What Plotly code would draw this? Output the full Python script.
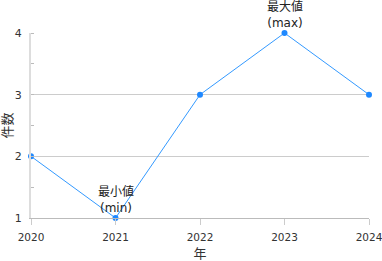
import plotly.graph_objects as go

years = [2020, 2021, 2022, 2023, 2024]
counts = [2, 1, 3, 4, 3]
max_label = "最大値<br>(max)"
min_label = "最小値<br>(min)"

imax = counts.index(max(counts))
imin = counts.index(min(counts))

fig = go.Figure()
fig.add_trace(go.Scatter(
    x=years, y=counts, mode="lines+markers",
    line=dict(color="#3399ff", width=1),
    marker=dict(color="#1e88ff", size=6),
    cliponaxis=False, showlegend=False,
))
for i, lab in [(imax, max_label), (imin, min_label)]:
    fig.add_annotation(x=years[i], y=counts[i], text=lab, showarrow=False,
                       yanchor="bottom", yshift=1, font=dict(size=12, color="#222"))

fig.update_layout(
    width=382, height=261,
    margin=dict(l=31, r=13, t=33, b=43),
    paper_bgcolor="white", plot_bgcolor="white",
    font=dict(family="DejaVu Sans, Noto Sans CJK JP", size=11, color="#333"),
    xaxis=dict(range=[2020, 2024], tickvals=years, ticktext=[str(y) for y in years],
               showgrid=False, showline=True, linecolor="#bbb", linewidth=1,
               ticks="outside", ticklen=6, tickcolor="#ccc", ticklabelstandoff=3,
               tickfont=dict(size=10.5),
               ticklabeloverflow="allow", automargin=False,
               title=dict(text="年", standoff=7), zeroline=False),
    yaxis=dict(range=[1, 4], tickvals=[1, 2, 3, 4], showgrid=True, gridcolor="#ccc",
               showline=True, linecolor="#ddd", linewidth=2, zeroline=False,
               ticks="", ticklabelstandoff=5, automargin=False,
               minor=dict(dtick=0.5, ticks="inside", ticklen=3, tickcolor="#bbb", showgrid=False),
               title=dict(text="件数", standoff=6)),
)
fig.write_html("out.html")
